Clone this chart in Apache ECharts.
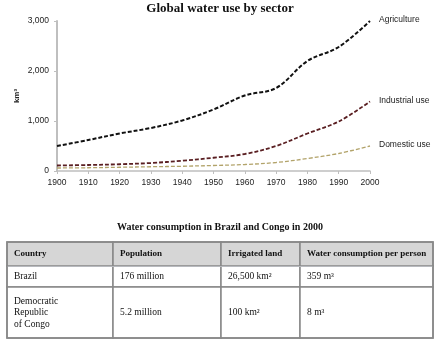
<!DOCTYPE html>
<html><head><meta charset="utf-8">
<script src="https://cdn.jsdelivr.net/npm/echarts@6/dist/echarts.min.js"></script>
<style>html,body{margin:0;padding:0;background:#fff}#c{width:440px;height:344px}</style>
</head><body><div id="c"></div>
<script>
var years = ['1900','1910','1920','1930','1940','1950','1960','1970','1980','1990','2000'];
var agriculture = [500, 620, 750, 860, 1010, 1230, 1510, 1660, 2200, 2480, 3000];
var industrial = [110, 120, 135, 160, 205, 265, 340, 500, 750, 990, 1390];
var domestic = [60, 65, 75, 85, 95, 110, 130, 170, 250, 350, 500];
var seriesNames = ['Agriculture', 'Industrial use', 'Domestic use'];
var yTicks = [0, 1000, 2000, 3000];
var tableColumns = ['Country', 'Population', 'Irrigated land', 'Water consumption per person'];
var tableRow1 = ['Brazil', '176 million', '26,500 km²', '359 m³'];
var tableRow2 = ['Democratic\nRepublic\nof Congo', '5.2 million', '100 km²', '8 m³'];

var chart = echarts.init(document.getElementById('c'));
var sans = 'Liberation Sans, Arial, sans-serif';
var serif = 'Liberation Serif, Times New Roman, serif';
function mkSeries(name, data, color, width) {
  return {
    name: name, type: 'line', data: data, smooth: 0.35, symbol: 'none',
    lineStyle: { color: color, width: width, type: [4, 2] },
    endLabel: { show: true, formatter: name, offset: [1, -1], fontSize: 8.5, fontFamily: sans, color: '#222' },
    z: 3
  };
}
var colWidths = [106, 108, 79, 133];
var rows = [tableRow1, tableRow2];
var bodyData = [];
rows.forEach(function (r, yi) {
  r.forEach(function (v, xi) { bodyData.push({ coord: [xi, yi], value: v }); });
});
chart.setOption({
  animation: false,
  title: [
    { text: 'Global water use by sector', left: 'center', top: 2, padding: 0,
      textStyle: { fontFamily: serif, fontSize: 13, fontWeight: 'bold', color: '#111' } },
    { text: 'Water consumption in Brazil and Congo in 2000', left: 'center', top: 222, padding: 0,
      textStyle: { fontFamily: serif, fontSize: 10, fontWeight: 'bold', color: '#111' } }
  ],
  grid: { left: 57, right: 70, top: 21, bottom: 173 },
  xAxis: {
    type: 'category', data: years, boundaryGap: false,
    axisLine: { lineStyle: { color: '#bfbfbf', width: 1.5 } },
    axisTick: { show: true, length: 3, lineStyle: { color: '#bfbfbf' } },
    axisLabel: { fontSize: 8.5, fontFamily: sans, color: '#222', margin: 7 }
  },
  yAxis: {
    type: 'value', min: yTicks[0], max: yTicks[yTicks.length - 1], interval: 1000,
    name: 'km³', nameLocation: 'middle', nameGap: 36, nameRotate: 90, nameMoveOverlap: false,
    nameTextStyle: { fontSize: 8, fontWeight: 'bold', fontFamily: sans, color: '#222' },
    axisLine: { show: true, lineStyle: { color: '#bfbfbf', width: 2 } },
    axisTick: { show: true, length: 3, lineStyle: { color: '#bfbfbf' } },
    splitLine: { show: false },
    axisLabel: { fontSize: 8.5, fontFamily: sans, color: '#222', margin: 8,
      formatter: function (v) { return v.toLocaleString('en-US'); } }
  },
  series: [
    mkSeries(seriesNames[0], agriculture, '#111', 2),
    mkSeries(seriesNames[1], industrial, '#5a1f22', 1.8),
    mkSeries(seriesNames[2], domestic, '#b2a36a', 1.3)
  ],
  matrix: {
    left: 7, top: 242, width: 426, height: 96,
    x: {
      show: true,
      data: tableColumns.map(function (c, i) { return { value: c, size: colWidths[i] }; }),
      levelSize: 24,
      label: { fontFamily: serif, fontSize: 9, fontWeight: 'bold', color: '#111', position: 'insideLeft', distance: 4, align: 'left' },
      itemStyle: { color: '#d6d6d6', borderColor: '#888', borderWidth: 1.5 }
    },
    y: {
      show: false,
      data: [{ value: 'r1', size: 21 }, { value: 'r2', size: 51 }]
    },
    body: {
      data: bodyData,
      label: { fontFamily: serif, fontSize: 9.5, color: '#111', position: 'insideLeft', distance: 4, align: 'left', lineHeight: 11.5 },
      itemStyle: { color: '#fff', borderColor: '#888', borderWidth: 1.5 }
    },
    backgroundStyle: { borderColor: '#888', borderWidth: 1.5 }
  }
});
</script></body></html>
